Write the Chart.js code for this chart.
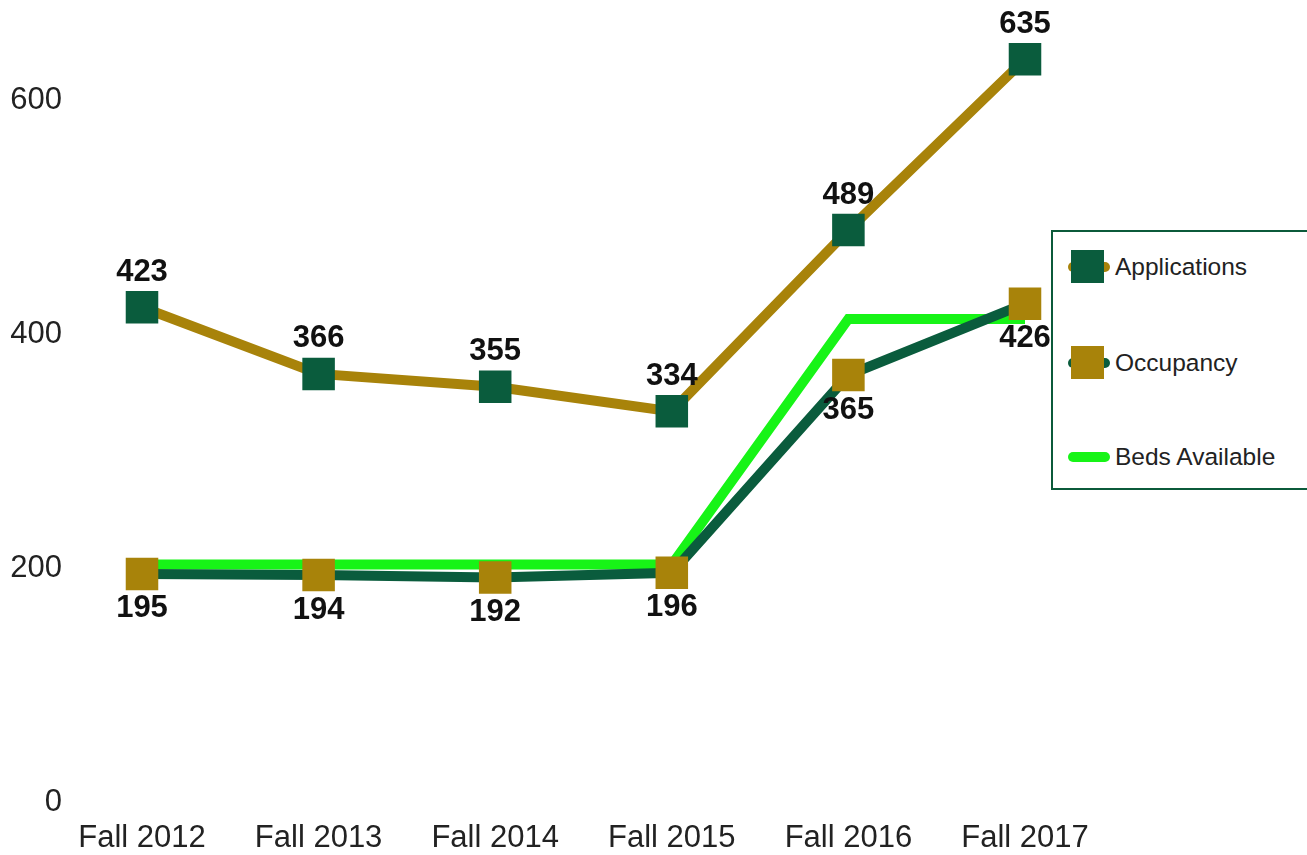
<!DOCTYPE html>
<html>
<head>
<meta charset="utf-8">
<script src="https://cdn.jsdelivr.net/npm/chart.js@4.4.0/dist/chart.umd.min.js"></script>
<style>
  html, body { margin: 0; padding: 0; background: #fff; overflow: hidden; }
  #wrap { position: relative; width: 1307px; height: 855px; }
  #legend {
    position: absolute; left: 1051px; top: 230px; width: 280px; height: 256px;
    border: 2px solid #0b5a3a; background: #fff;
    font-family: "Liberation Sans", Arial, Helvetica, sans-serif; font-size: 24.5px; color: #222;
  }
  .item { position: absolute; left: 0; height: 34px; display: flex; align-items: center; }
  .mark { position: relative; width: 42px; height: 34px; margin-left: 15px; margin-right: 5px; }
  .mark .ln { position: absolute; left: 0; right: 0; top: 12px; height: 10px; border-radius: 5px; }
  .mark .sq { position: absolute; left: 3px; top: 0; width: 33px; height: 33px; }
</style>
</head>
<body>
<div id="wrap">
  <canvas id="myChart" width="1307" height="855"></canvas>
  <div id="legend"></div>
</div>
<script>
// chart data
const labels = ["Fall 2012", "Fall 2013", "Fall 2014", "Fall 2015", "Fall 2016", "Fall 2017"];
const applications = [423, 366, 355, 334, 489, 635];
const occupancy = [195, 194, 192, 196, 365, 426];
const bedsAvailable = [203, 203, 203, 203, 413, 413];
const yTicks = [0, 200, 400, 600];

const darkGreen = "#0a5c3d";
const gold = "#a8830a";
const brightGreen = "#17f417";
const fontFamily = "'Liberation Sans', Arial, Helvetica, sans-serif";

// value labels, applications above and occupancy below
const valueLabels = {
  id: "valueLabels",
  afterDatasetsDraw(chart) {
    const ctx = chart.ctx;
    ctx.save();
    ctx.font = "bold 31px " + fontFamily;
    ctx.fillStyle = "#111";
    ctx.textAlign = "center";
    ctx.textBaseline = "middle";
    [0, 1].forEach((di) => {
      const meta = chart.getDatasetMeta(di);
      const vals = chart.data.datasets[di].data;
      meta.data.forEach((pt, i) => {
        const dy = di == 0 ? -35 : 35;
        ctx.fillText(vals[i], pt.x, pt.y + dy);
      });
    });
    ctx.restore();
  },
};

const data = {
  labels: labels,
  datasets: [
    {
      label: "Applications",
      data: applications,
      borderColor: gold,
      borderWidth: 10,
      pointStyle: "rect",
      pointRadius: 23,
      pointBackgroundColor: darkGreen,
      pointBorderColor: darkGreen,
      pointBorderWidth: 0,
      order: 0,
      clip: false,
    },
    {
      label: "Occupancy",
      data: occupancy,
      borderColor: darkGreen,
      borderWidth: 10,
      pointStyle: "rect",
      pointRadius: 23,
      pointBackgroundColor: gold,
      pointBorderColor: gold,
      pointBorderWidth: 0,
      order: 1,
      clip: false,
    },
    {
      label: "Beds Available",
      data: bedsAvailable,
      borderColor: brightGreen,
      borderWidth: 10,
      pointRadius: 0,
      order: 2,
      clip: false,
    },
  ],
};

const config = {
  type: "line",
  data: data,
  options: {
    responsive: false,
    animation: false,
    layout: { padding: { top: 6, right: 282, left: 0, bottom: 0 } },
    plugins: { legend: { display: false }, tooltip: { enabled: false } },
    scales: {
      x: {
        offset: false,
        grid: { display: false, drawTicks: false },
        border: { display: false },
        ticks: { color: "#222", font: { family: fontFamily, size: 31 }, padding: 18, maxRotation: 0 },
        afterFit: (s) => { s.height = 53; },
      },
      y: {
        min: 0,
        max: 666,
        grid: { display: false, drawTicks: false },
        border: { display: false },
        ticks: { color: "#222", font: { family: fontFamily, size: 31 }, padding: 80 },
        afterBuildTicks: (s) => { s.ticks = yTicks.map((v) => ({ value: v })); },
        afterFit: (s) => {
          s.width = 142;
          s.paddingTop = 0;
          s.paddingBottom = 0;
        },
      },
    },
  },
  plugins: [valueLabels],
};

const myChart = new Chart(document.getElementById("myChart"), config);

// legend
const legendItems = [
  { text: "Applications", line: gold, square: darkGreen, top: 250 - 232 },
  { text: "Occupancy", line: darkGreen, square: gold, top: 346 - 232 },
  { text: "Beds Available", line: brightGreen, square: null, top: 440 - 232 },
];
const legend = document.getElementById("legend");
legendItems.forEach((it) => {
  const row = document.createElement("div");
  row.className = "item";
  row.style.top = it.top + "px";
  const mark = document.createElement("div");
  mark.className = "mark";
  const ln = document.createElement("div");
  ln.className = "ln";
  ln.style.background = it.line;
  mark.appendChild(ln);
  if (it.square) {
    const sq = document.createElement("div");
    sq.className = "sq";
    sq.style.background = it.square;
    mark.appendChild(sq);
  }
  row.appendChild(mark);
  const txt = document.createElement("span");
  txt.textContent = it.text;
  row.appendChild(txt);
  legend.appendChild(row);
});
</script>
</body>
</html>
